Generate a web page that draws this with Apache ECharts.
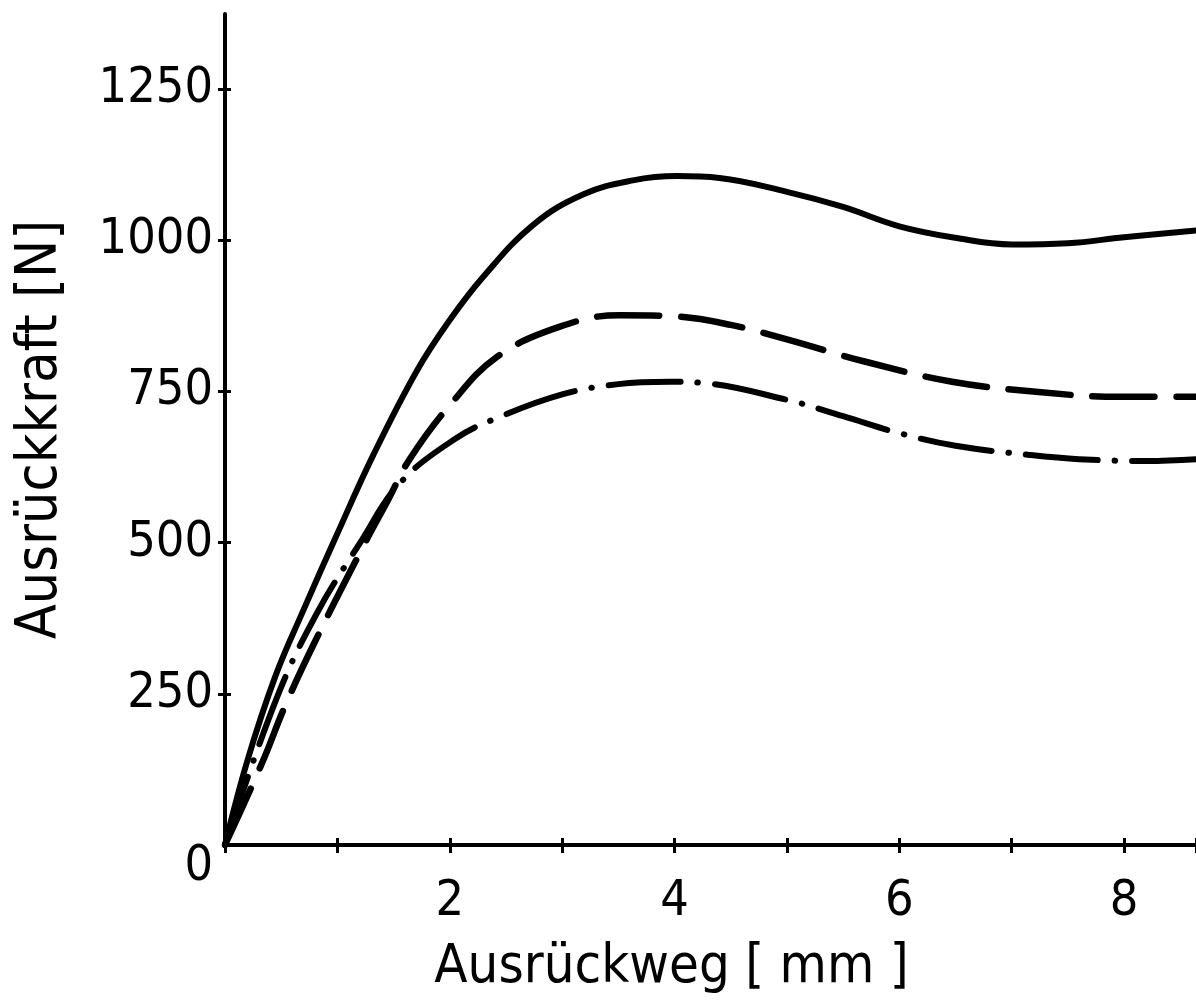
<!DOCTYPE html>
<html>
<head>
<meta charset="utf-8">
<script src="https://cdn.jsdelivr.net/npm/echarts@6/dist/echarts.min.js"></script>
<style>
  html, body { margin: 0; padding: 0; background: #fff; }
  #chart { width: 1196px; height: 1006px; }
</style>
</head>
<body>
<div id="chart"></div>
<script>
// Ausrückkraft über Ausrückweg – drei Kennlinien
const wegVoll   = [0, 0.2, 0.45, 0.69, 1.0, 1.32, 1.71, 2.0, 2.3, 2.74, 3.19, 3.63, 4.02, 4.4, 5.0, 5.5, 6.0, 6.5, 7.0, 7.5, 8.0, 8.64];
const kraftVoll = [0, 140, 280, 385, 515, 645, 785, 868, 940, 1025, 1076, 1099, 1106, 1103, 1080, 1055, 1023, 1004, 993, 995, 1005, 1016];

const wegStrich   = [0, 0.34, 0.53, 0.8, 1.25, 1.45, 1.64, 2.0, 2.42, 2.98, 3.51, 4.0, 4.5, 5.0, 5.7, 6.47, 7.24, 7.96, 8.64];
const kraftStrich = [0, 140, 228, 336, 501, 570, 637, 727, 807, 857, 876, 874, 860, 836, 799, 766, 749, 741, 741];

const wegStrichPunkt   = [0, 0.46, 0.82, 1.2, 1.56, 2.06, 2.42, 3.0, 3.5, 3.96, 4.25, 5.0, 5.5, 6.0, 6.5, 7.16, 7.6, 8.2, 8.64];
const kraftStrichPunkt = [0, 243, 384, 499, 599, 673, 706, 745, 762, 766, 764, 736, 709, 681, 660, 645, 638, 635, 638];

const xTickStep = 1;
const xLabels = [2, 4, 6, 8];
const yTicks  = [250, 500, 750, 1000, 1250];
const yLabels = [0, 250, 500, 750, 1000, 1250];

const xName = 'Ausrückweg [ mm ]';
const yName = 'Ausrückkraft [N]';

const X_MAX = 8.64;
const Y_MAX = 1374;

const labelFont = "'DejaVu Sans Condensed', sans-serif";
const nameFont  = "'DejaVu Sans Condensed', sans-serif";

const pairs = (xs, ys) => xs.map((x, i) => [x, ys[i]]);

const chart = echarts.init(document.getElementById('chart'), null, { renderer: 'canvas' });

const tickStyle = { color: '#000', width: 3 };
const baseX = { type: 'value', min: 0, max: X_MAX, splitLine: { show: false }, position: 'bottom' };
const baseY = { type: 'value', min: 0, max: Y_MAX, splitLine: { show: false }, position: 'left' };

chart.setOption({
  backgroundColor: '#ffffff',
  animation: false,
  grid: { left: 225, right: 0, top: 14, bottom: 161 },
  xAxis: [
    Object.assign({}, baseX, {
      axisLine: { show: true, onZero: false, lineStyle: { color: '#000', width: 4 } },
      axisTick: { show: false },
      axisLabel: {
        show: true, customValues: xLabels, margin: 32,
        color: '#000', fontSize: 50, fontFamily: labelFont
      },
      name: xName, nameLocation: 'middle', nameGap: 96,
      nameTextStyle: { color: '#000', fontSize: 54, fontFamily: nameFont, padding: [0, 78, 0, 0] }
    }),
    // tick marks crossing the axis line (shifted half their length inward)
    Object.assign({}, baseX, {
      offset: -7,
      interval: xTickStep,
      axisLine: { show: false, onZero: false },
      axisTick: { show: true, inside: false, length: 15, lineStyle: tickStyle },
      axisLabel: { show: false }
    })
  ],
  yAxis: [
    Object.assign({}, baseY, {
      axisLine: { show: true, onZero: false, lineStyle: { color: '#000', width: 4 } },
      axisTick: { show: false },
      axisLabel: {
        show: true, customValues: yLabels, margin: 12,
        color: '#000', fontSize: 50, fontFamily: labelFont,
        formatter: v => (v === 0 ? '{z|0}' : String(v)),
        rich: { z: { color: '#000', fontSize: 50, fontFamily: labelFont, padding: [44, 0, 0, 0] } }
      },
      name: yName, nameLocation: 'middle', nameGap: 155, nameRotate: 90,
      nameTextStyle: { color: '#000', fontSize: 57, fontFamily: nameFont }
    }),
    Object.assign({}, baseY, {
      offset: -6,
      axisLine: { show: false, onZero: false },
      axisTick: { show: true, inside: false, length: 13, customValues: yTicks, lineStyle: tickStyle },
      axisLabel: { show: false }
    })
  ],
  series: [
    {
      name: 'voll', type: 'line', xAxisIndex: 0, yAxisIndex: 0,
      data: pairs(wegVoll, kraftVoll),
      smooth: 0.4, showSymbol: false, symbol: 'none',
      lineStyle: { color: '#000', width: 6, type: 'solid', cap: 'round', join: 'round' }
    },
    {
      name: 'gestrichelt', type: 'line', xAxisIndex: 0, yAxisIndex: 0,
      data: pairs(wegStrich, kraftStrich),
      smooth: 0.4, showSymbol: false, symbol: 'none',
      lineStyle: { color: '#000', width: 6.5, type: [62, 22], cap: 'round', join: 'round' }
    },
    {
      name: 'strichpunktiert', type: 'line', xAxisIndex: 0, yAxisIndex: 0,
      data: pairs(wegStrichPunkt, kraftStrichPunkt),
      smooth: 0.4, showSymbol: false, symbol: 'none',
      lineStyle: { color: '#000', width: 6, type: [72, 17, 0.5, 17], cap: 'round', join: 'round' }
    }
  ]
});
</script>
</body>
</html>
